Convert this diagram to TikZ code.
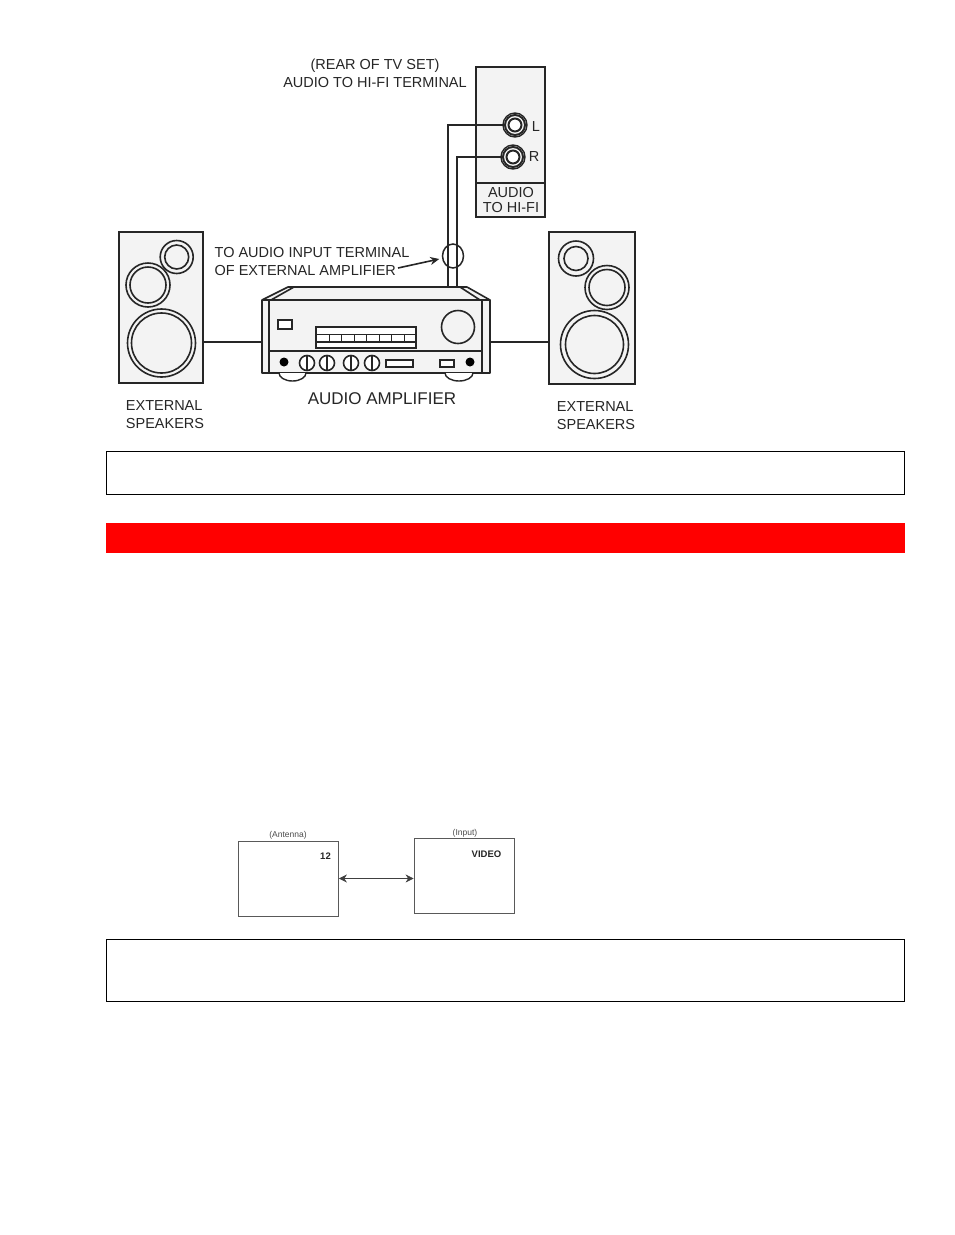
\documentclass[tikz,border=0pt]{standalone}
\usepackage{fontspec}
\setmainfont{Liberation Sans}
\usetikzlibrary{shapes.geometric}
\usetikzlibrary{arrows.meta}
\definecolor{inkgray}{HTML}{262626}
\definecolor{panelgray}{HTML}{F3F3F3}
\tikzset{
  x=1pt,y=-1pt,
  panel/.style={draw=inkgray,line width=1.6pt,fill=panelgray,inner sep=0pt,outer sep=0pt},
  ring/.style={circle,draw=inkgray,line width=1.6pt,inner sep=0pt,outer sep=0pt},
  wire/.style={draw=inkgray,line width=1.6pt},
  caption/.style={text=inkgray,font=\fontsize{14.5}{18}\selectfont,align=left,inner sep=0pt},
  notebox/.style={draw=black,line width=1pt,fill=white,inner sep=0pt,minimum width=798pt},
  tvbox/.style={draw=black!65,line width=0.8pt,inner sep=0pt,minimum width=100pt,minimum height=75pt},
  tiny/.style={text=black!70,font=\fontsize{8.5}{9}\selectfont,inner sep=0pt},
  tinybold/.style={text=black!85,font=\fontsize{9.5}{10}\selectfont\bfseries,inner sep=0pt},
}
\begin{document}
\begin{tikzpicture}
  \useasboundingbox (0,0) rectangle (954,1235);
  \fill[white] (0,0) rectangle (954,1235);

  % speakers
  \node[panel,minimum width=84pt,minimum height=151pt] (spkl) at (161,307.5) {};
  \node[ring,minimum size=68pt] (spklbig) at (161.5,343) {};
  \node[ring,minimum size=60pt] (spklbigin) at (161.5,343) {};
  \node[ring,minimum size=44pt] (spklmid) at (148,285) {};
  \node[ring,minimum size=36pt] (spklmidin) at (148,285) {};
  \node[ring,fill=panelgray,minimum size=33pt] (spklsmall) at (176.7,257) {};
  \node[ring,minimum size=24pt] (spklsmallin) at (176.7,257) {};
  \node[panel,minimum width=86pt,minimum height=152pt] (spkr) at (592,308) {};
  \node[ring,minimum size=68pt] (spkrbig) at (594.5,344.5) {};
  \node[ring,minimum size=58pt] (spkrbigin) at (594.5,344.5) {};
  \node[ring,minimum size=44pt] (spkrmid) at (607,287.5) {};
  \node[ring,minimum size=36pt] (spkrmidin) at (607,287.5) {};
  \node[ring,minimum size=35pt] (spkrsmall) at (576,258.5) {};
  \node[ring,minimum size=24pt] (spkrsmallin) at (576,258.5) {};

  % rear of tv
  \node[panel,minimum width=69pt,minimum height=150pt] (rear) at (510.5,142) {};
  \draw[wire] (476,183)--(545,183);
  \node[ring,fill=white,minimum size=24pt,line width=1.4pt] (jackl) at (515,125) {};
  \node[ring,minimum size=20pt,line width=2pt] (jacklin) at (515,125) {};
  \node[ring,minimum size=13pt,line width=2pt] (jacklcore) at (515,125) {};
  \node[ring,fill=white,minimum size=24pt,line width=1.4pt] (jackr) at (513,157) {};
  \node[ring,minimum size=20pt,line width=2pt] (jackrin) at (513,157) {};
  \node[ring,minimum size=13pt,line width=2pt] (jackrcore) at (513,157) {};

  % amplifier
  \filldraw[fill=panelgray,draw=inkgray,line width=1.6pt,line join=round]
    (262,300)--(288,287)--(467,287)--(490,300)--(490,373)--(262,373)--cycle;
  \coordinate (ampl) at (262,342);
  \coordinate (ampr) at (491,342);
  \coordinate (ampinl) at (448,287);
  \coordinate (ampinr) at (457,287);
  \draw[wire] (262,300)--(490,300);
  \draw[wire] (269,300)--(269,373);
  \draw[wire] (482,300)--(482,373);
  \draw[wire] (269,351)--(482,351);
  \draw[wire] (271,300)--(294,287);
  \draw[wire] (480,300)--(460,287);
  \node[panel,fill=white,minimum width=14pt,minimum height=9pt] (ampsq) at (285,324.5) {};
  \node[panel,fill=white,minimum width=100pt,minimum height=21pt] (display) at (366,337.5) {};
  \draw[wire] (316,334.5)--(416,334.5);
  \draw[wire] (316,342)--(416,342);
  \foreach \xpos in {329,341,354,366,379,391,404}
    \draw[wire,line width=1pt] (\xpos,334.5)--(\xpos,342);
  \node[ring,fill=panelgray,minimum size=33pt] (volume) at (458,327) {};
  \node[circle,fill=black,minimum size=9pt,inner sep=0pt] (dotl) at (284,362) {};
  \node[circle,fill=black,minimum size=9pt,inner sep=0pt] (dotr) at (470,362) {};
  \foreach \xpos in {307,327,351,372}{
    \node[ring,fill=white,minimum size=15pt] (knob\xpos) at (\xpos,363) {};
    \draw[wire] (knob\xpos.north)--(knob\xpos.south);
  }
  \node[panel,fill=white,minimum width=27pt,minimum height=7pt] (slotl) at (399.5,363.5) {};
  \node[panel,fill=white,minimum width=14pt,minimum height=7pt] (slotr) at (447,363.5) {};
  \filldraw[fill=white,draw=inkgray,line width=1.4pt] (279,373) arc[start angle=180,end angle=0,x radius=13.5pt,y radius=-8pt];
  \filldraw[fill=white,draw=inkgray,line width=1.4pt] (445,373) arc[start angle=180,end angle=0,x radius=14pt,y radius=-8pt];

  % wires
  \draw[wire] (spkl.east|-ampl)--(ampl);
  \draw[wire] (ampr)--(spkr.west|-ampr);
  \draw[wire] (jackl)++(-12,0)--(448,125)--(ampinl);
  \draw[wire] (jackr)++(-12,0)--(457,157)--(ampinr);
  \node[ellipse,draw=inkgray,line width=1.5pt,minimum width=21pt,minimum height=24pt,inner sep=0pt] (clamp) at (453,256) {};

  % labels
  \node[caption,align=center] (reartxt) at (375,73) {(REAR OF TV SET)\\AUDIO TO HI-FI TERMINAL};
  \node[caption] (lbll) at (536,127) {L};
  \node[caption] (lblr) at (534,157) {R};
  \node[caption,align=center,font=\fontsize{14.5}{15}\selectfont] (hifitxt) at (511,200) {AUDIO\\TO HI-FI};
  \node[caption] (inputtxt) at (312,262) {TO AUDIO INPUT TERMINAL\\OF EXTERNAL AMPLIFIER};
  \coordinate (inputtail) at (398,268);
  \draw[wire,-{Stealth[length=9pt,width=8pt]}] (inputtail)--([shift={(-2.5,3)}]clamp.west);
  \node[caption] (spkltxt) at (165,414.5) {EXTERNAL\\SPEAKERS};
  \node[caption] (spkrtxt) at (596,415.5) {EXTERNAL\\SPEAKERS};
  \node[caption,font=\fontsize{17}{18}\selectfont] (amptxt) at (382,399) {AUDIO AMPLIFIER};

  % bars
  \node[notebox,minimum height=43pt] (noteone) at (505,472.5) {};
  \node[fill=red,minimum width=799pt,minimum height=30pt,inner sep=0pt] (redbar) at (505.5,538) {};
  \node[notebox,minimum height=62pt] (notetwo) at (505,970) {};

  % channel boxes
  \node[tvbox] (antbox) at (288.5,878.5) {};
  \node[tvbox] (inbox) at (464,876) {};
  \node[tiny] (anttxt) at (288,835) {(Antenna)};
  \node[tiny] (intxt) at (465,833.5) {(Input)};
  \node[tinybold] (chtxt) at (325.5,856) {12};
  \node[tinybold] (vidtxt) at (486.5,854.5) {VIDEO};
  \coordinate (arrowl) at (antbox.east);
  \draw[black!75,line width=0.7pt,{Stealth[length=8pt,width=8pt]}-{Stealth[length=8pt,width=8pt]}] (antbox.east)--(inbox.west|-arrowl);
\end{tikzpicture}
\end{document}
